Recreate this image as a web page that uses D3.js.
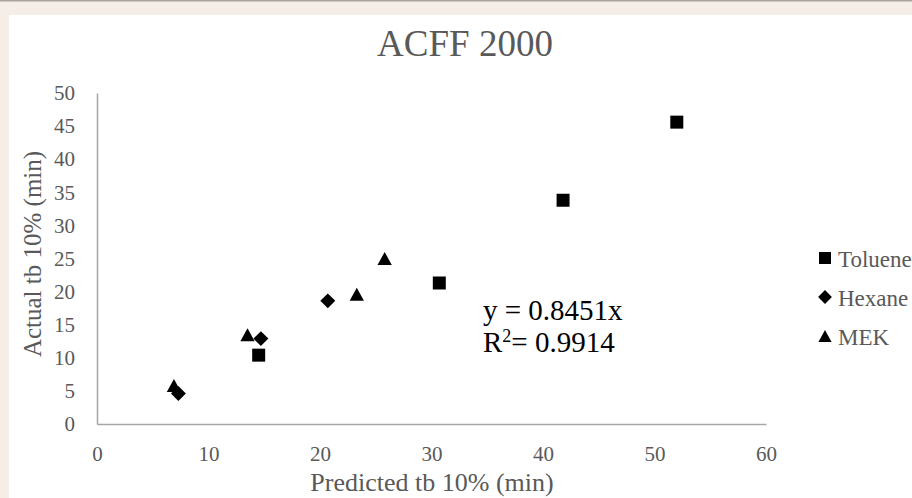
<!DOCTYPE html>
<html>
<head>
<meta charset="utf-8">
<script src="https://d3js.org/d3.v7.min.js"></script>
<style>
  body { margin: 0; background: #f5eee8; }
  svg { display: block; }
</style>
</head>
<body>
<script>
// data
var seriesNames = ["Toluene", "Hexane", "MEK"];
var tolueneX = [14.5, 30.7, 41.8, 52.0];
var tolueneY = [10.4, 21.3, 33.8, 45.6];
var hexaneX = [7.3, 14.7, 20.7];
var hexaneY = [4.6, 12.9, 18.6];
var mekX = [6.9, 13.5, 23.3, 25.8];
var mekY = [5.8, 13.5, 19.6, 25.0];
var xTicks = [0, 10, 20, 30, 40, 50, 60];
var yTicks = [0, 5, 10, 15, 20, 25, 30, 35, 40, 45, 50];

var W = 912, H = 498;
var serif = "'Liberation Serif', 'Times New Roman', serif";
var grey = "#595959";

var svg = d3.select("body").append("svg")
    .attr("width", W).attr("height", H);

// page frame
svg.append("rect").attr("width", W).attr("height", H).attr("fill", "#f5eee8");
svg.append("rect").attr("width", W).attr("height", 1.5).attr("fill", "#a8a29b");
svg.append("rect").attr("x", 9).attr("y", 15).attr("width", W - 9).attr("height", H - 15)
    .attr("fill", "#fff");

var x = d3.scaleLinear().domain([0, 60]).range([97, 766]);
var y = d3.scaleLinear().domain([0, 50]).range([424, 93]);

// title
svg.append("text").attr("x", 465).attr("y", 56)
    .attr("text-anchor", "middle")
    .style("font-family", serif).style("font-size", "37px").attr("fill", grey)
    .text("ACFF 2000");

// axes
var xAxis = svg.append("g").attr("transform", "translate(0," + y(0) + ")")
    .call(d3.axisBottom(x).tickValues(xTicks).tickSize(0).tickPadding(22));
var yAxis = svg.append("g").attr("transform", "translate(" + x(0) + ",0)")
    .call(d3.axisLeft(y).tickValues(yTicks).tickSize(0).tickPadding(22));
[xAxis, yAxis].forEach(function(g) {
  g.select(".domain").attr("stroke", "#a6a6a6").attr("stroke-width", 1.5);
  g.selectAll("text").style("font-family", serif).style("font-size", "21px")
    .attr("fill", grey);
});

svg.append("text").attr("x", 432).attr("y", 491)
    .attr("text-anchor", "middle")
    .style("font-family", serif).style("font-size", "26px").attr("fill", grey)
    .text("Predicted tb 10% (min)");
svg.append("text")
    .attr("transform", "translate(41,254) rotate(-90)")
    .attr("text-anchor", "middle")
    .style("font-family", serif).style("font-size", "25px").attr("fill", grey)
    .text("Actual tb 10% (min)");

// marker shapes
var markSquare = {draw: function(c, s) { var r = Math.sqrt(s) / 2;
  c.rect(-r, -r, 2 * r, 2 * r); }};
var markDiamond = {draw: function(c, s) { var r = Math.sqrt(s) / 2 * 1.15;
  c.moveTo(0, -r); c.lineTo(r, 0); c.lineTo(0, r); c.lineTo(-r, 0); c.closePath(); }};
var markTriangle = {draw: function(c, s) { var r = Math.sqrt(s) / 2;
  c.moveTo(0, -r); c.lineTo(r * 1.1, r); c.lineTo(-r * 1.1, r); c.closePath(); }};
var types = {Toluene: markSquare, Hexane: markDiamond, MEK: markTriangle};

var series = [
  {name: "Toluene", xs: tolueneX, ys: tolueneY},
  {name: "Hexane", xs: hexaneX, ys: hexaneY},
  {name: "MEK", xs: mekX, ys: mekY}
];
series.forEach(function(s) {
  svg.append("g").selectAll("path")
    .data(s.xs.map(function(v, i) { return [v, s.ys[i]]; }))
    .join("path")
    .attr("d", d3.symbol().type(types[s.name]).size(169))
    .attr("transform", function(d) { return "translate(" + x(d[0]) + "," + y(d[1]) + ")"; })
    .attr("fill", "#000");
});

// trendline label
var eq = svg.append("text")
    .style("font-family", serif).style("font-size", "29px").attr("fill", "#000");
eq.append("tspan").attr("x", 483).attr("y", 320).text("y = 0.8451x");
eq.append("tspan").attr("x", 483).attr("y", 352).text("R");
eq.append("tspan").attr("dy", -10).style("font-size", "18px").text("2");
eq.append("tspan").attr("dy", 10).text("= 0.9914");

// legend
var legend = svg.append("g").selectAll("g")
    .data(seriesNames).join("g")
    .attr("transform", function(d, i) { return "translate(825," + (258 + i * 39) + ")"; });
legend.append("path")
    .attr("d", function(d) { return d3.symbol().type(types[d]).size(144)(); })
    .attr("fill", "#000");
legend.append("text").attr("x", 13).attr("y", 9)
    .style("font-family", serif).style("font-size", "23px").attr("fill", grey)
    .text(function(d) { return d; });
</script>
</body>
</html>
